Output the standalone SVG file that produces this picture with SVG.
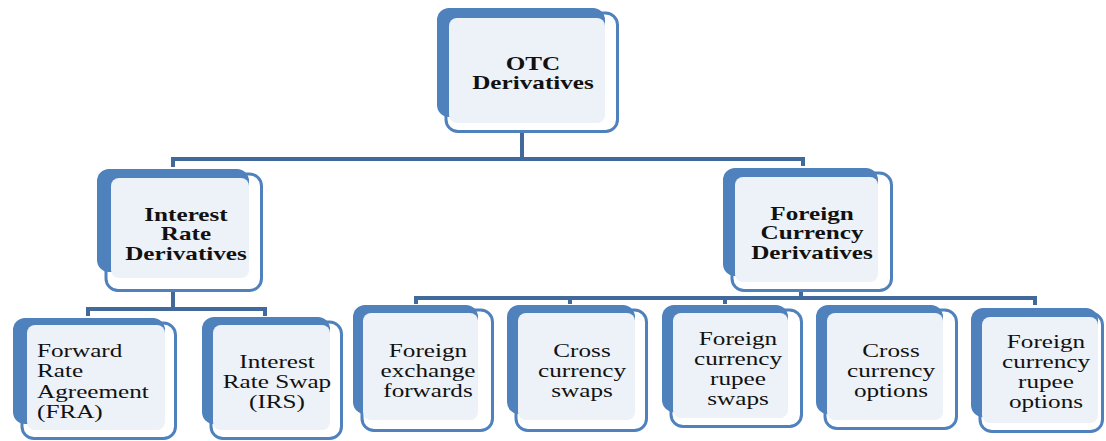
<svg xmlns="http://www.w3.org/2000/svg" width="1106" height="441" viewBox="0 0 1106 441">
<style>
.a{fill:#4F81BD}
.b{fill:#FFFFFF;stroke:#4F81BD;stroke-width:3}
.c{fill:#EDF1F8}
.conn{fill:none;stroke:#41699C;stroke-width:4;stroke-linecap:butt}
.t{font-family:"Liberation Serif","Times New Roman",serif;font-size:18px;fill:#111111}
.bold{font-weight:bold}
</style>
<rect width="1106" height="441" fill="#FFFFFF"/>
<g id="connectors" class="conn">
<path d="M522 133V159M173 167V159H803V166"/>
<path d="M173 292V309M88 316V309H265V316"/>
<path d="M801 290V298M416 304V298H1035V305M570 298V304M725 298V304"/>
</g>
<g id="otc">
<rect class="b" x="446" y="13" width="171.5" height="118.5" rx="12"/>
<rect class="a" x="437" y="8" width="168" height="109" rx="12"/>
<rect class="c" x="449" y="18" width="156" height="105" rx="8"/>
<text class="t bold" text-anchor="middle" transform="translate(533,70) scale(1.4,1)"><tspan x="0">OTC</tspan><tspan x="0" dy="19">Derivatives</tspan></text>
</g>
<g id="interest-rate">
<rect class="b" x="106" y="174" width="155.5" height="116.5" rx="12"/>
<rect class="a" x="97" y="169" width="152" height="103" rx="12"/>
<rect class="c" x="111" y="178" width="138" height="100" rx="8"/>
<text class="t bold" text-anchor="middle" transform="translate(186,221) scale(1.4,1)"><tspan x="0">Interest</tspan><tspan x="0" dy="19.5">Rate</tspan><tspan x="0" dy="19.5">Derivatives</tspan></text>
</g>
<g id="foreign-currency">
<rect class="b" x="732" y="173" width="159.5" height="117.5" rx="12"/>
<rect class="a" x="723" y="168" width="155" height="108" rx="12"/>
<rect class="c" x="735" y="177" width="143" height="105" rx="8"/>
<text class="t bold" text-anchor="middle" transform="translate(812,220) scale(1.4,1)"><tspan x="0">Foreign</tspan><tspan x="0" dy="19.5">Currency</tspan><tspan x="0" dy="19.5">Derivatives</tspan></text>
</g>
<g id="fra">
<rect class="b" x="22" y="323" width="153.5" height="115.5" rx="12"/>
<rect class="a" x="13" y="318" width="152" height="106" rx="12"/>
<rect class="c" x="27" y="325" width="138" height="105" rx="8"/>
<text class="t" transform="translate(37,357) scale(1.4,1)"><tspan x="0">Forward</tspan><tspan x="0" dy="20.3">Rate</tspan><tspan x="0" dy="20.3">Agreement</tspan><tspan x="0" dy="20.3">(FRA)</tspan></text>
</g>
<g id="irs">
<rect class="b" x="211" y="322" width="130.5" height="116.5" rx="12"/>
<rect class="a" x="202" y="317" width="128" height="107" rx="12"/>
<rect class="c" x="213" y="325" width="117" height="105" rx="8"/>
<text class="t" text-anchor="middle" transform="translate(277,368) scale(1.4,1)"><tspan x="0">Interest</tspan><tspan x="0" dy="20">Rate Swap</tspan><tspan x="0" dy="20">(IRS)</tspan></text>
</g>
<g id="fx-forwards">
<rect class="b" x="362" y="310" width="130.5" height="120.5" rx="12"/>
<rect class="a" x="353" y="305" width="125" height="109" rx="12"/>
<rect class="c" x="363" y="313" width="115" height="107" rx="8"/>
<text class="t" text-anchor="middle" transform="translate(428,357) scale(1.4,1)"><tspan x="0">Foreign</tspan><tspan x="0" dy="20">exchange</tspan><tspan x="0" dy="20">forwards</tspan></text>
</g>
<g id="cc-swaps">
<rect class="b" x="516" y="310" width="130.5" height="120.5" rx="12"/>
<rect class="a" x="507" y="305" width="128" height="109" rx="12"/>
<rect class="c" x="518" y="313" width="117" height="107" rx="8"/>
<text class="t" text-anchor="middle" transform="translate(582,357) scale(1.4,1)"><tspan x="0">Cross</tspan><tspan x="0" dy="20">currency</tspan><tspan x="0" dy="20">swaps</tspan></text>
</g>
<g id="fc-rupee-swaps">
<rect class="b" x="671" y="310" width="130.5" height="116.5" rx="12"/>
<rect class="a" x="662" y="305" width="126" height="107" rx="12"/>
<rect class="c" x="673" y="313" width="115" height="105" rx="8"/>
<text class="t" text-anchor="middle" transform="translate(738,345) scale(1.4,1)"><tspan x="0">Foreign</tspan><tspan x="0" dy="20">currency</tspan><tspan x="0" dy="20">rupee</tspan><tspan x="0" dy="20">swaps</tspan></text>
</g>
<g id="cc-options">
<rect class="b" x="825" y="310" width="131.5" height="118.5" rx="12"/>
<rect class="a" x="816" y="305" width="127" height="109" rx="12"/>
<rect class="c" x="827" y="313" width="116" height="107" rx="8"/>
<text class="t" text-anchor="middle" transform="translate(891,357) scale(1.4,1)"><tspan x="0">Cross</tspan><tspan x="0" dy="20">currency</tspan><tspan x="0" dy="20">options</tspan></text>
</g>
<g id="fc-rupee-options">
<rect class="b" x="980" y="313" width="122.5" height="118.5" rx="12"/>
<rect class="a" x="971" y="308" width="127" height="109" rx="12"/>
<rect class="c" x="982" y="317" width="116" height="106" rx="8"/>
<text class="t" text-anchor="middle" transform="translate(1046,348) scale(1.4,1)"><tspan x="0">Foreign</tspan><tspan x="0" dy="20">currency</tspan><tspan x="0" dy="20">rupee</tspan><tspan x="0" dy="20">options</tspan></text>
</g>
</svg>
